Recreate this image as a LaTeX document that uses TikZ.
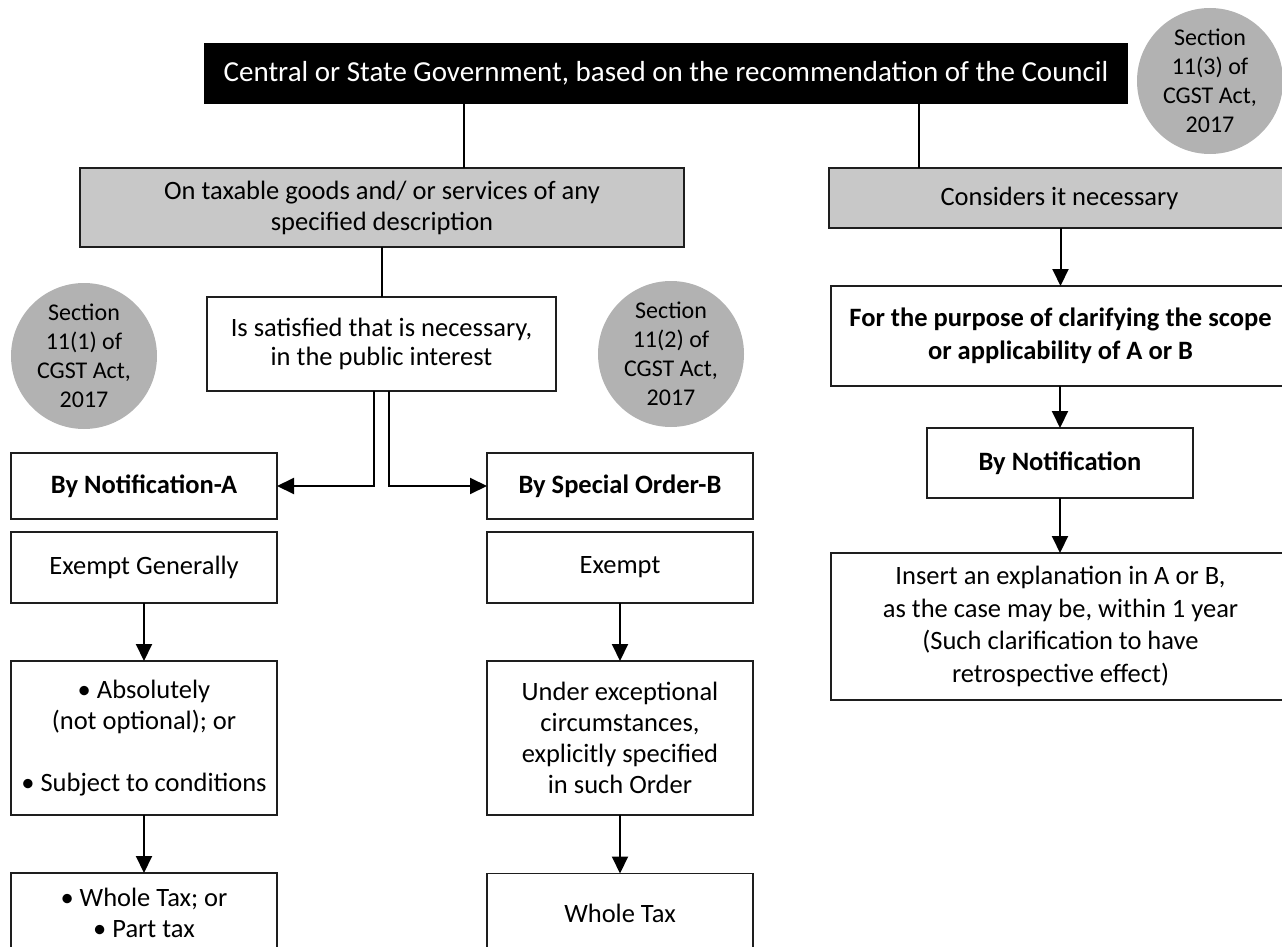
\documentclass[tikz,border=0pt]{standalone}
\usepackage{fontspec}
\setmainfont{Carlito}
\usetikzlibrary{arrows.meta,calc}
\definecolor{boxgray}{RGB}{200,200,200}
\definecolor{circgray}{RGB}{178,178,178}
\definecolor{edge}{RGB}{30,30,30}
\begin{document}
\begin{tikzpicture}[x=1pt,y=-1pt,
  base/.style={rectangle,inner sep=0pt,outer sep=0pt,line width=1.7pt,draw=edge,align=center,font=\fontsize{26.5}{31}\selectfont},
  wbox/.style={base,fill=white},
  gbox/.style={base,fill=boxgray},
  hbox/.style={base,fill=black,draw=black,text=white,font=\fontsize{29}{31}\selectfont},
  sect/.style={circle,fill=circgray,inner sep=0pt,outer sep=0pt,minimum size=146pt,align=center,font=\fontsize{24}{29}\selectfont},
  sz/.style 2 args={minimum width=#1pt,minimum height=#2pt},
  conn/.style={line width=2pt,draw=black},
  arr/.style={conn,-{Triangle[length=17pt,width=16pt]}}]
\useasboundingbox (0,0) rectangle (1282,947);
\clip (0,0) rectangle (1282,947);

% header and top boxes
\node[hbox,sz={922}{59}] (top) at (666,73.5) {Central or State Government, based on the recommendation of the Council};
\node[sect] (c3) at (1210,81) {Section\\11(3) of\\CGST Act,\\2017};
\node[gbox,sz={604}{79}] (g1) at (382,207.5) {On taxable goods and/ or services of any\\specified description};
\node[gbox,sz={461}{60}] (g2) at (1059.5,198) {Considers it necessary};

% middle
\node[wbox,sz={349}{94},font=\fontsize{26.5}{29}\selectfont] (sat) at (381.5,344) {Is satisfied that is necessary,\\in the public interest};
\node[sect] (c1) at (84,356) {Section\\11(1) of\\CGST Act,\\2017};
\node[sect] (c2) at (671,354) {Section\\11(2) of\\CGST Act,\\2017};

% left column
\node[wbox,sz={266}{66}] (nA) at (144,486) {\bfseries By Notification-A};
\node[wbox,sz={266}{71}] (exA) at (144,567.5) {Exempt Generally};
\node[wbox,sz={266}{154}] (absA) at (144,738) {• Absolutely\\(not optional); or\\[31pt]• Subject to conditions};
\node[wbox,sz={266}{80}] (wtA) at (144,913) {• Whole Tax; or\\• Part tax};

% middle column
\node[wbox,sz={266}{66}] (nB) at (620,486) {\bfseries By Special Order-B};
\node[wbox,sz={266}{71}] (exB) at (620,567.5) {Exempt};
\node[wbox,sz={266}{154}] (ucB) at (620,738) {Under exceptional\\circumstances,\\explicitly specified\\in such Order};
\node[wbox,sz={266}{80}] (wtB) at (620,913.5) {Whole Tax};

% right column
\node[wbox,sz={459}{100},font=\fontsize{26.5}{33}\selectfont\bfseries] (purp) at (1060.5,336) {For the purpose of clarifying the scope\\or applicability of A or B};
\node[wbox,sz={266}{70}] (byN) at (1060,463) {\bfseries By Notification};
\node[wbox,sz={459}{147},font=\fontsize{26.5}{32.5}\selectfont] (ins) at (1060.5,626.5) {Insert an explanation in A or B,\\as the case may be, within 1 year\\(Such clarification to have\\retrospective effect)};

% connectors
\coordinate (xa) at (464,0);
\coordinate (xb) at (919,0);
\coordinate (xl) at (374,0);
\coordinate (xr) at (389,0);
\draw[conn] (top.south -| xa) -- (g1.north -| xa);
\draw[conn] (top.south -| xb) -- (g2.north -| xb);
\draw[conn] (g1.south -| sat.north) -- (sat.north);
\draw[arr] (sat.south -| xl) |- (nA.east);
\draw[arr] (sat.south -| xr) |- (nB.west);
\draw[arr] (exA.south) -- (absA.north);
\draw[arr] (absA.south) -- (wtA.north);
\draw[arr] (exB.south) -- (ucB.north);
\draw[arr] (ucB.south) -- (wtB.north);
\draw[arr] (g2.south -| purp.north) -- (purp.north);
\draw[arr] (purp.south -| byN.north) -- (byN.north);
\draw[arr] (byN.south) -- (ins.north -| byN.south);
\end{tikzpicture}
\end{document}
